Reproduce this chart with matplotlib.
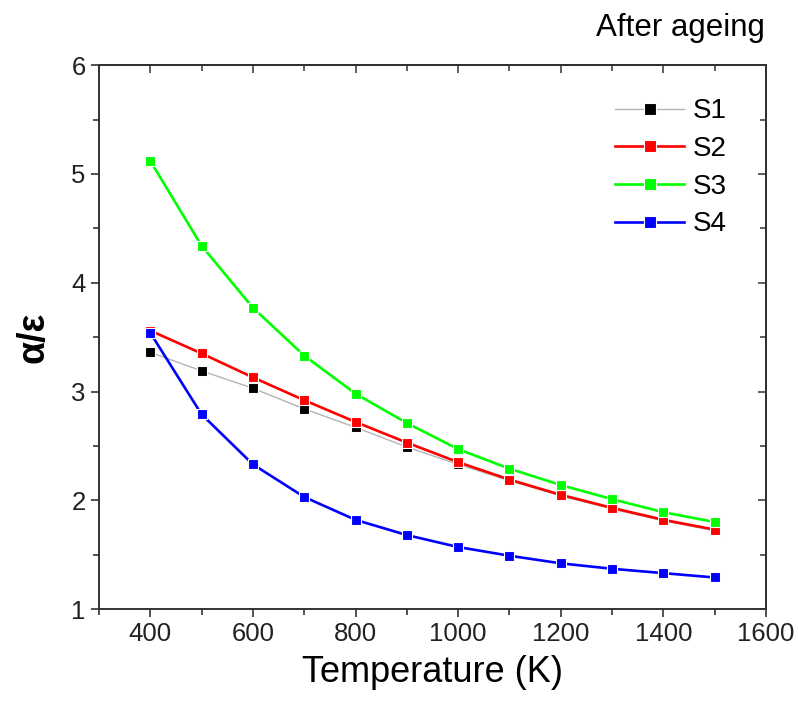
import matplotlib
matplotlib.use('Agg')
import matplotlib.pyplot as plt
from matplotlib.ticker import MultipleLocator

plt.rcParams['font.family'] = ['Liberation Sans', 'DejaVu Sans']

# data
temps = [400, 500, 600, 700, 800, 900, 1000, 1100, 1200, 1300, 1400, 1500]
s1 = [3.36, 3.19, 3.03, 2.84, 2.67, 2.49, 2.33, 2.18, 2.04, 1.92, 1.81, 1.72]
s2 = [3.56, 3.35, 3.13, 2.92, 2.72, 2.53, 2.35, 2.19, 2.05, 1.93, 1.82, 1.73]
s3 = [5.12, 4.34, 3.77, 3.33, 2.98, 2.71, 2.47, 2.29, 2.14, 2.01, 1.89, 1.80]
s4 = [3.54, 2.79, 2.33, 2.03, 1.82, 1.68, 1.57, 1.49, 1.42, 1.37, 1.33, 1.29]
labels = ['S1', 'S2', 'S3', 'S4']
line_colors = ['#b4b4b4', '#ff0000', '#00ff00', '#0000ff']
marker_colors = ['#000000', '#ff0000', '#00ff00', '#0000ff']
line_widths = [1.0, 1.9, 1.9, 1.9]

fig = plt.figure(figsize=(7.98, 7.09), dpi=100)
ax = fig.add_axes([0.124, 0.141, 0.836, 0.767])

for ys, lab, lc, mc, lw in zip([s1, s2, s3, s4], labels, line_colors, marker_colors, line_widths):
    ax.plot(temps, ys, '-s', color=lc, lw=lw, markerfacecolor=mc, markeredgecolor='white',
            markeredgewidth=0.8, markersize=7.5, label=lab)

ax.set_xlim(300, 1600)
ax.set_ylim(1, 6)
ax.xaxis.set_major_locator(MultipleLocator(200))
ax.xaxis.set_minor_locator(MultipleLocator(100))
ax.yaxis.set_major_locator(MultipleLocator(1))
ax.yaxis.set_minor_locator(MultipleLocator(0.5))
ax.tick_params(which='both', direction='out', width=1.1, labelsize=18.5, colors='#222222',
               top=False, right=False)
ax.tick_params(which='major', length=6)
ax.tick_params(which='minor', length=4)
for sp in ax.spines.values():
    sp.set_linewidth(1.4)
    sp.set_color('#333333')

# inward ticks on the top and right sides
top = ax.secondary_xaxis('top')
top.xaxis.set_major_locator(MultipleLocator(200))
top.xaxis.set_minor_locator(MultipleLocator(100))
top.tick_params(which='both', direction='in', width=1.1, labeltop=False, colors='#333333')
top.tick_params(which='major', length=6)
top.tick_params(which='minor', length=4)
right = ax.secondary_yaxis('right')
right.yaxis.set_major_locator(MultipleLocator(1))
right.yaxis.set_minor_locator(MultipleLocator(0.5))
right.tick_params(which='both', direction='in', width=1.1, labelright=False, colors='#333333')
right.tick_params(which='major', length=6)
right.tick_params(which='minor', length=4)
top.spines['top'].set_linewidth(1.4)
right.spines['right'].set_linewidth(1.4)

ax.set_xlabel('Temperature (K)', fontsize=26, labelpad=6)
ax.set_ylabel('\u03b1/\u03b5', fontsize=27, fontweight='bold', labelpad=14)

fig.text(0.958, 0.96, 'After ageing', fontsize=22.5, ha='right', va='center')

ax.legend(loc='upper right', bbox_to_anchor=(0.97, 0.975), frameon=False, fontsize=20,
          handlelength=2.5, handletextpad=0.3, labelspacing=0.42, borderaxespad=0.3,
          markerscale=1.2)

plt.savefig('out.png', dpi=100)
